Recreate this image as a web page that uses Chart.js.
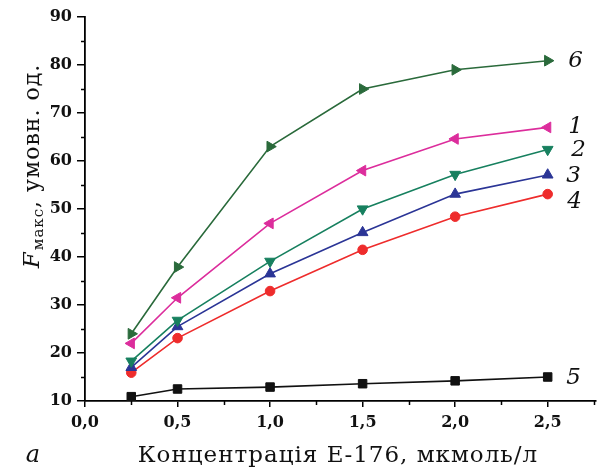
<!DOCTYPE html>
<html>
<head>
<meta charset="utf-8">
<script src="https://cdn.jsdelivr.net/npm/chart.js@4"></script>
<style>
  html, body { margin: 0; padding: 0; background: #fff; }
  #wrap { width: 603px; height: 468px; }
</style>
</head>
<body>
<div id="wrap"><canvas id="fluor"></canvas></div>
<script>
// concentration of E-176, umol/l
const conc = [0.25, 0.5, 1.0, 1.5, 2.0, 2.5];

// F max, arbitrary units, curves 1..6
const curve1 = [22.0, 31.5, 47.0, 58.0, 64.6, 67.0];
const curve2 = [18.3, 26.8, 39.1, 50.0, 57.2, 62.4];
const curve3 = [17.0, 25.5, 36.5, 45.1, 53.1, 57.1];
const curve4 = [15.9, 23.1, 32.9, 41.5, 48.4, 53.1];
const curve5 = [10.9, 12.5, 12.9, 13.6, 14.2, 15.0];
const curve6 = [24.0, 37.9, 63.0, 75.0, 79.0, 80.9];

const xTicks = [0, 0.5, 1.0, 1.5, 2.0, 2.5];
const yTicks = [10, 20, 30, 40, 50, 60, 70, 80, 90];
const xMinor = [0.25, 0.75, 1.25, 1.75, 2.25, 2.75];
const yMinor = [15, 25, 35, 45, 55, 65, 75, 85];

const curveNames = ['1', '2', '3', '4', '5', '6'];

const tickFont = { family: 'DejaVu Serif', weight: 'bold', size: 16 };
const serif = '"DejaVu Serif", "Liberation Serif", serif';

function series(values, color, style, rotation, radius) {
  return {
    data: values.map((v, i) => ({ x: conc[i], y: v })),
    borderColor: color,
    backgroundColor: color,
    borderWidth: 1.6,
    pointStyle: style,
    rotation: rotation,
    pointRadius: radius,
    pointBorderWidth: 1,
    tension: 0
  };
}

const datasets = [
  series(curve1, '#dc2d9c', 'triangle', 270, 6.2),
  series(curve2, '#17805f', 'triangle', 180, 6.2),
  series(curve3, '#2b3596', 'triangle', 0, 6.2),
  series(curve4, '#ee2c2c', 'circle', 0, 4.8),
  series(curve5, '#111111', 'rect', 0, 6),
  series(curve6, '#2a6a3b', 'triangle', 90, 6.2)
];

// curve number offsets from the last point of each curve
const nameOffsets = [[28, 0], [31, 1], [26, 1], [27, 8], [26, 1], [28, 0]];

const decorations = {
  id: 'decorations',
  afterDraw(chart) {
    const { ctx, chartArea, scales } = chart;
    const xs = scales.x, ys = scales.y;
    ctx.save();
    ctx.strokeStyle = '#000';
    ctx.lineWidth = 1.5;

    // minor ticks
    ctx.beginPath();
    yMinor.forEach(v => {
      const py = Math.round(ys.getPixelForValue(v)) + 0.5;
      ctx.moveTo(chartArea.left - 4, py);
      ctx.lineTo(chartArea.left, py);
    });
    xMinor.forEach(v => {
      const px = Math.round(xs.getPixelForValue(v)) + 0.5;
      ctx.moveTo(px, chartArea.bottom);
      ctx.lineTo(px, chartArea.bottom + 4);
    });
    ctx.stroke();

    // curve numbers
    ctx.fillStyle = '#111';
    ctx.font = 'italic 23px ' + serif;
    ctx.textAlign = 'center';
    ctx.textBaseline = 'middle';
    chart.data.datasets.forEach((ds, i) => {
      const last = ds.data[ds.data.length - 1];
      const px = xs.getPixelForValue(last.x) + nameOffsets[i][0];
      const py = ys.getPixelForValue(last.y) + nameOffsets[i][1];
      ctx.fillText(curveNames[i], px, py);
    });

    // x title and panel letter
    ctx.textBaseline = 'alphabetic';
    ctx.letterSpacing = '1px';
    ctx.font = '23px ' + serif;
    ctx.fillText('Концентрація Е-176, мкмоль/л', 338, 462);
    ctx.letterSpacing = '0px';
    ctx.font = 'italic 24px ' + serif;
    ctx.fillText('а', 33, 462);

    // y title with subscript
    ctx.letterSpacing = '1px';
    const mainFont = '22px ' + serif;
    const italFont = 'italic 23px ' + serif;
    const subFont = '15px ' + serif;
    ctx.font = italFont;
    const wF = ctx.measureText('F').width;
    ctx.font = subFont;
    const wSub = ctx.measureText('макс').width;
    ctx.font = mainFont;
    const wRest = ctx.measureText(', умовн. од.').width;
    const total = wF + 1 + wSub + wRest;

    ctx.translate(39, 166);
    ctx.rotate(-Math.PI / 2);
    ctx.textAlign = 'left';
    let cx = -total / 2;
    ctx.font = italFont;
    ctx.fillText('F', cx, 0);
    cx += wF + 1;
    ctx.font = subFont;
    ctx.fillText('макс', cx, 4);
    cx += wSub;
    ctx.font = mainFont;
    ctx.fillText(', умовн. од.', cx, 0);
    ctx.restore();
  }
};

new Chart(document.getElementById('fluor'), {
  type: 'line',
  data: { datasets: datasets },
  options: {
    responsive: true,
    maintainAspectRatio: false,
    animation: false,
    layout: { padding: { left: 0, top: 17, right: 2, bottom: 0 } },
    plugins: {
      legend: { display: false },
      tooltip: { enabled: false }
    },
    scales: {
      x: {
        type: 'linear',
        min: 0,
        max: 2.76,
        afterBuildTicks: s => { s.ticks = xTicks.map(v => ({ value: v })); },
        afterFit: s => { s.height = 67; },
        border: { display: true, color: '#000', width: 1.8 },
        grid: { drawOnChartArea: false, drawTicks: true, tickLength: 6, color: '#000', lineWidth: 1.5 },
        ticks: {
          color: '#111',
          font: tickFont,
          padding: 6,
          maxRotation: 0,
          callback: v => v.toFixed(1).replace('.', ',')
        }
      },
      y: {
        min: 10,
        max: 90,
        afterBuildTicks: s => { s.ticks = yTicks.map(v => ({ value: v })); },
        afterFit: s => { s.width = 85; },
        border: { display: true, color: '#000', width: 1.8 },
        grid: { drawOnChartArea: false, drawTicks: true, tickLength: 8, color: '#000', lineWidth: 1.5 },
        ticks: {
          color: '#111',
          font: tickFont,
          padding: 5,
          callback: v => String(v)
        }
      }
    }
  },
  plugins: [decorations]
});
</script>
</body>
</html>
